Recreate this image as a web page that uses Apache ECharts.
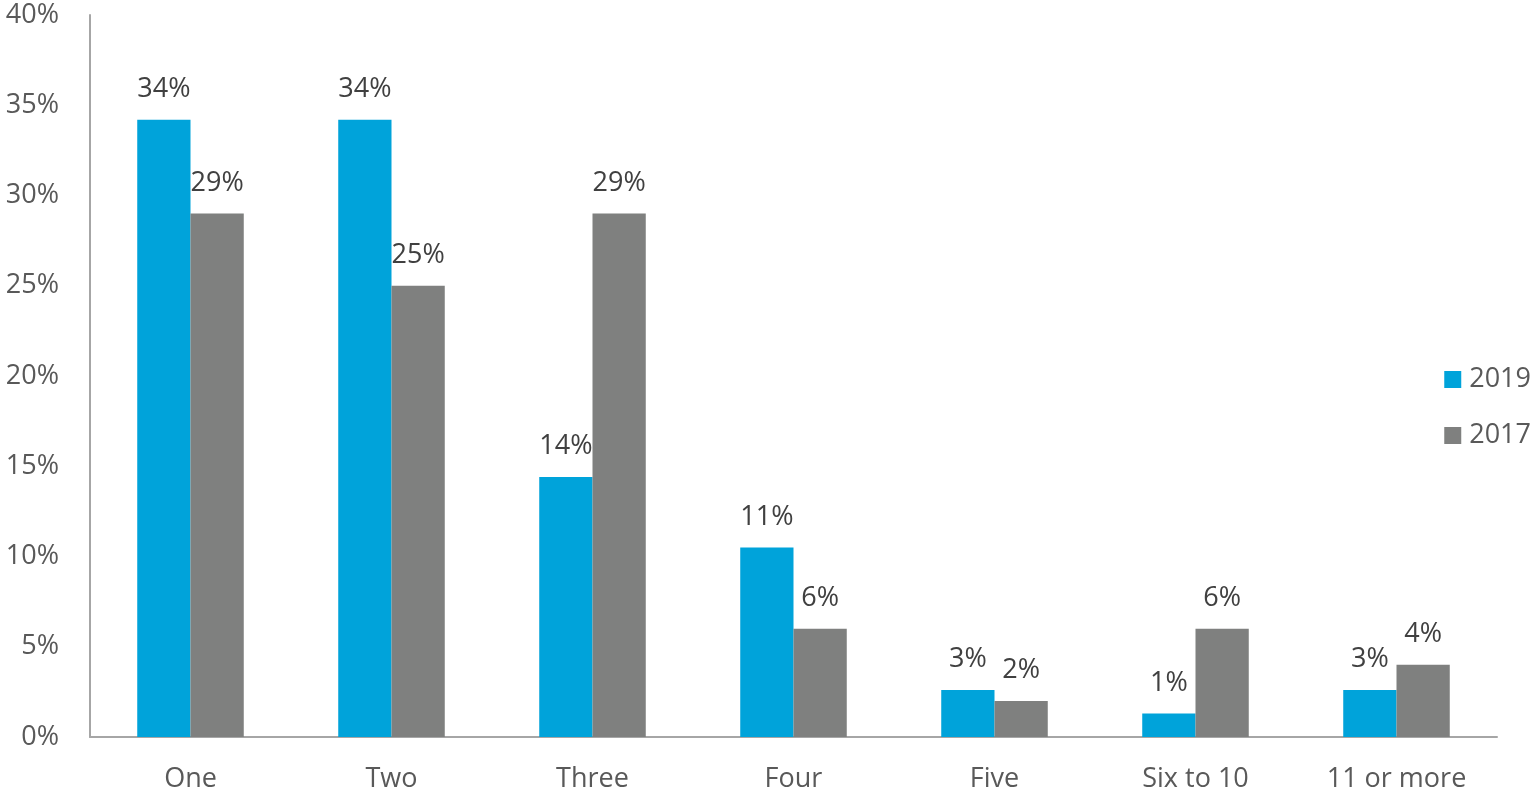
<!DOCTYPE html>
<html>
<head>
<meta charset="utf-8">
<script src="https://cdn.jsdelivr.net/npm/echarts@6/dist/echarts.min.js"></script>
<style>html,body{margin:0;padding:0;background:#fff;}#c{width:1533px;height:793px;}</style>
</head>
<body>
<div id="c"></div>
<script>
const categories = ['One', 'Two', 'Three', 'Four', 'Five', 'Six to 10', '11 or more'];
const series2019 = [34.2, 34.2, 14.4, 10.5, 2.6, 1.3, 2.6];
const series2017 = [29.0, 25.0, 29.0, 6.0, 2.0, 6.0, 4.0];
const seriesNames = ['2019', '2017'];

const FONT = '"Open Sans", sans-serif';
const chart = echarts.init(document.getElementById('c'));
const labelCfg = {
  show: true, position: 'top', distance: 17,
  fontFamily: FONT, fontSize: 27, color: '#404040', lineHeight: 27,
  formatter: p => Math.round(p.value) + '%'
};
chart.setOption({
  animation: false,
  textStyle: { fontFamily: FONT },
  grid: { left: 90, right: 36, top: 15, bottom: 56, containLabel: false },
  legend: {
    orient: 'vertical', right: 2, top: 366, padding: 0,
    itemWidth: 17, itemHeight: 17, itemGap: 29,
    icon: 'rect',
    textStyle: { fontFamily: FONT, fontSize: 27, color: '#595959', padding: [0, 0, 0, 3] },
    data: seriesNames
  },
  xAxis: {
    type: 'category', data: categories,
    axisLine: { lineStyle: { color: '#a6a6a6', width: 2 } },
    axisTick: { show: false },
    axisLabel: { fontFamily: FONT, fontSize: 27, color: '#595959', margin: 29 }
  },
  yAxis: {
    type: 'value', min: 0, max: 40, interval: 5,
    axisLine: { show: true, lineStyle: { color: '#a6a6a6', width: 2 } },
    axisTick: { show: false },
    splitLine: { show: false },
    axisLabel: { fontFamily: FONT, fontSize: 27, color: '#595959', margin: 31, formatter: v => v + '%' }
  },
  series: [
    { name: seriesNames[0], type: 'bar', data: series2019, barGap: '0%', barCategoryGap: '47%',
      itemStyle: { color: '#00A3DA' }, label: labelCfg },
    { name: seriesNames[1], type: 'bar', data: series2017, barGap: '0%', barCategoryGap: '47%',
      itemStyle: { color: '#7F807F' }, label: labelCfg }
  ]
});
</script>
</body>
</html>
